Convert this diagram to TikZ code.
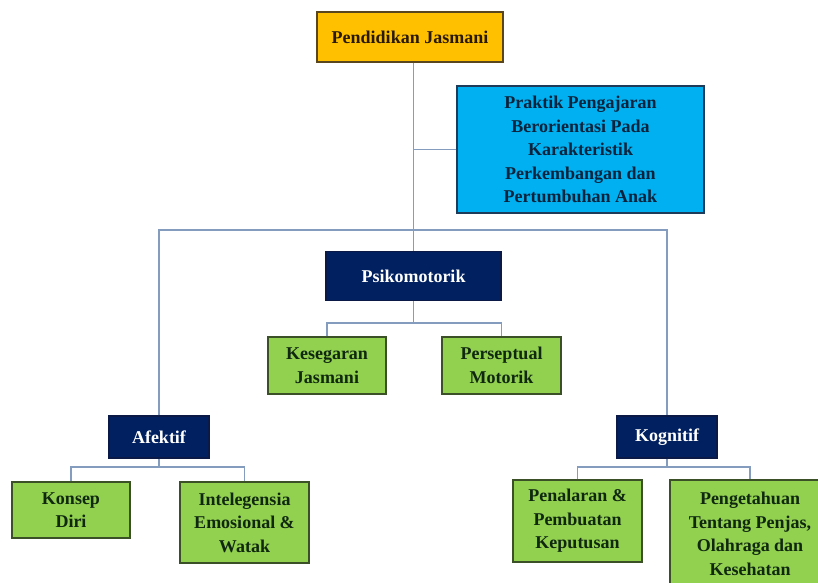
\documentclass[tikz,border=0pt]{standalone}
\usepackage{fontspec}
\setmainfont{Liberation Serif}
\begin{document}
\begin{tikzpicture}[x=1pt,y=-1pt,
  every node/.style={inner sep=0pt, align=center, font=\fontsize{18}{23.5}\selectfont\bfseries},
  conn/.style={draw={rgb,255:red,132;green,156;blue,190}, line width=1.6pt},
  goldbox/.style={draw={rgb,255:red,90;green,70;blue,30}, line width=1.4pt, fill={rgb,255:red,255;green,192;blue,0}, text={rgb,255:red,40;green,25;blue,5}},
  bluebox/.style={draw={rgb,255:red,30;green,60;blue,90}, line width=1.4pt, fill={rgb,255:red,0;green,176;blue,240}, text={rgb,255:red,10;green,35;blue,60}},
  navybox/.style={draw={rgb,255:red,10;green,25;blue,70}, line width=1.4pt, fill={rgb,255:red,0;green,32;blue,96}, text=white},
  greenbox/.style={draw={rgb,255:red,60;green,80;blue,40}, line width=1.4pt, fill={rgb,255:red,146;green,208;blue,80}, text={rgb,255:red,15;green,40;blue,15}}
]
\useasboundingbox (0,0) rectangle (818,582);
\fill[white] (0,0) rectangle (818,582);
\clip (0,0) rectangle (818,582);

\node[goldbox, minimum width=186pt, minimum height=50pt] (pj) at (410,37) {Pendidikan Jasmani};
\node[bluebox, minimum width=247pt, minimum height=127pt] (praktik) at (580.5,149.5) {Praktik Pengajaran\\Berorientasi Pada\\Karakteristik\\Perkembangan dan\\Pertumbuhan Anak};
\node[navybox, minimum width=175pt, minimum height=49pt] (psiko) at (413.5,276) {Psikomotorik};
\node[greenbox, minimum width=118pt, minimum height=57pt] (kes) at (327,365.5) {Kesegaran\\Jasmani};
\node[greenbox, minimum width=119pt, minimum height=57pt] (pers) at (501.5,365.5) {Perseptual\\Motorik};
\node[navybox, minimum width=100pt, minimum height=42pt] (afek) at (159,437) {Afektif};
\node[navybox, minimum width=100pt, minimum height=42pt] (kogn) at (667,437) {Kognitif};
\node[greenbox, minimum width=118pt, minimum height=56pt] (konsep) at (71,510) {Konsep\\Diri};
\node[greenbox, minimum width=129pt, minimum height=81pt] (intel) at (244.5,522.5) {Intelegensia\\Emosional \&\\Watak};
\node[greenbox, minimum width=129pt, minimum height=82pt] (penal) at (577.5,521) {Penalaran \&\\Pembuatan\\Keputusan};
\node[greenbox, minimum width=160pt, minimum height=108pt] (penget) at (750,534) {Pengetahuan\\Tentang Penjas,\\Olahraga dan\\Kesehatan};

\coordinate (hub) at (413.5,230);
\coordinate (psub) at (413.5,323);
\coordinate (asub) at (159,467);
\coordinate (ksub) at (667,467);

\begin{scope}[on background layer/.style={}]
\end{scope}
\draw[conn] (pj.south -| psiko.north) -- (psiko.north);
\draw[conn] (praktik.west) -- (praktik.west -| psiko.north);
\draw[conn] (afek.north) |- (hub) -| (kogn.north);
\draw[conn] (psiko.south) -- (psub);
\draw[conn] (kes.north) |- (psub) -| (pers.north);
\draw[conn] (afek.south) -- (asub);
\draw[conn] (konsep.north) |- (asub) -| (intel.north);
\draw[conn] (kogn.south) -- (ksub);
\draw[conn] (penal.north) |- (ksub) -| (penget.north);
\end{tikzpicture}
\end{document}
